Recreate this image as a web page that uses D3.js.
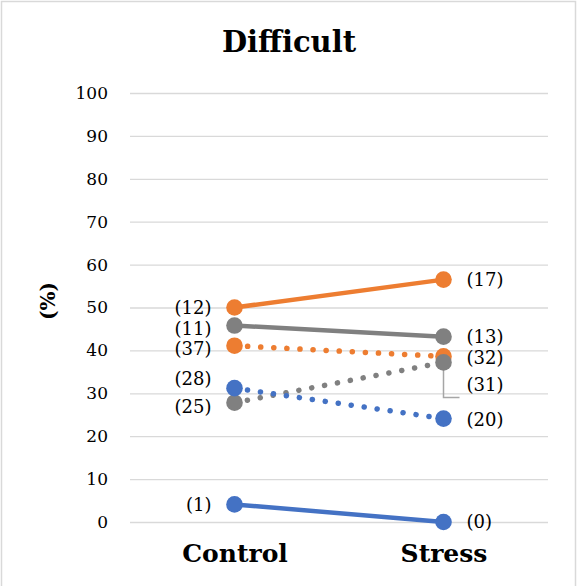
<!DOCTYPE html>
<html>
<head>
<meta charset="utf-8">
<script src="https://cdn.jsdelivr.net/npm/d3@7"></script>
<style>
  body { margin: 0; background: #fff; }
  svg text { font-family: Georgia, "DejaVu Serif", "Liberation Serif", serif; fill: #000; }
</style>
</head>
<body>
<svg width="577" height="586"></svg>
<script>
var categories = ['Control', 'Stress'];
var yTicks = [0, 10, 20, 30, 40, 50, 60, 70, 80, 90, 100];

var orangeSolid = [50, 56.5];
var graySolid = [45.8, 43.2];
var orangeDotted = [41.1, 38.6];
var grayDotted = [27.8, 37.2];
var blueDotted = [31.2, 24.1];
var blueSolid = [4.1, 0];

var orangeSolidLabels = ['(12)', '(17)'];
var graySolidLabels = ['(11)', '(13)'];
var orangeDottedLabels = ['(37)', '(32)'];
var grayDottedLabels = ['(25)', '(31)'];
var blueDottedLabels = ['(28)', '(20)'];
var blueSolidLabels = ['(1)', '(0)'];

var series = [
    {values: orangeDotted, labels: orangeDottedLabels, color: '#ED7D31', dotted: true},
    {values: grayDotted, labels: grayDottedLabels, color: '#808080', dotted: true},
    {values: blueDotted, labels: blueDottedLabels, color: '#4472C4', dotted: true},
    {values: orangeSolid, labels: orangeSolidLabels, color: '#ED7D31', dotted: false},
    {values: graySolid, labels: graySolidLabels, color: '#808080', dotted: false},
    {values: blueSolid, labels: blueSolidLabels, color: '#4472C4', dotted: false}
];

var svg = d3.select('svg');

// chart frame (bottom edge runs off the picture)
svg.append('rect')
    .attr('x', 1.5).attr('y', 1.5).attr('width', 574).attr('height', 600)
    .attr('fill', '#fff').attr('stroke', '#d9d9d9').attr('stroke-width', 1.5);

var margin = {top: 93, left: 130, right: 29, bottom: 64};
var width = 577 - margin.left - margin.right;
var height = 586 - margin.top - margin.bottom;

var g = svg.append('g').attr('transform', 'translate(' + margin.left + ',' + margin.top + ')');

var x = d3.scalePoint().domain(categories).range([0, width]).padding(0.5);
var y = d3.scaleLinear().domain([0, 100]).range([height, 0]);

// grid
g.append('g')
    .call(d3.axisLeft(y).tickValues(yTicks).tickSize(-width).tickFormat(''))
    .call(function(a) {
        a.select('.domain').remove();
        a.selectAll('line').attr('stroke', '#d9d9d9').attr('stroke-width', 1.3);
    });

// y tick labels
g.append('g')
    .call(d3.axisLeft(y).tickValues(yTicks).tickSize(0).tickPadding(22))
    .call(function(a) {
        a.select('.domain').remove();
        a.selectAll('text').style('font-size', '17px').attr('fill', '#000');
    });

// x labels
g.append('g')
    .attr('transform', 'translate(0,' + height + ')')
    .call(d3.axisBottom(x).tickSize(0).tickPadding(22))
    .call(function(a) {
        a.select('.domain').remove();
        a.selectAll('text').style('font-size', '25px').style('font-weight', 'bold').attr('fill', '#000');
    });

// title
svg.append('text')
    .attr('x', 289).attr('y', 52)
    .attr('text-anchor', 'middle')
    .style('font-size', '29px').style('font-weight', 'bold')
    .text('Difficult');

// y axis title
svg.append('text')
    .attr('transform', 'translate(55,301) rotate(-90)')
    .attr('text-anchor', 'middle')
    .style('font-size', '20px').style('font-weight', 'bold')
    .text('(%)');

var line = d3.line()
    .x(function(d, i) { return x(categories[i]); })
    .y(function(d) { return y(d); });

series.forEach(function(s) {
    g.append('path')
        .datum(s.values)
        .attr('d', line)
        .attr('fill', 'none')
        .attr('stroke', s.color)
        .attr('stroke-width', s.dotted ? 5.5 : 4.5)
        .attr('stroke-linecap', 'round')
        .attr('stroke-dasharray', s.dotted ? '0.1 13' : null);
});

// leader line for (31)
g.append('path')
    .attr('d', 'M' + x('Stress') + ',' + y(grayDotted[1]) + 'V' + (y(grayDotted[1]) + 35) + 'H' + (x('Stress') + 16))
    .attr('fill', 'none').attr('stroke', '#a6a6a6').attr('stroke-width', 1.5);

series.forEach(function(s) {
    g.selectAll(null)
        .data(s.values)
        .enter().append('circle')
        .attr('cx', function(d, i) { return x(categories[i]); })
        .attr('cy', function(d) { return y(d); })
        .attr('r', 8.3)
        .attr('fill', s.color);
});

// data labels
var leftShift = {'(12)': 0, '(11)': 3, '(37)': 3, '(28)': -9, '(25)': 4, '(1)': 0};
var rightShift = {'(17)': 0, '(13)': 0, '(32)': 1, '(31)': 22, '(20)': 1, '(0)': 0};

series.forEach(function(s) {
    g.append('text')
        .attr('x', x('Control') - 23)
        .attr('y', y(s.values[0]) + leftShift[s.labels[0]])
        .attr('dy', '0.35em')
        .attr('text-anchor', 'end')
        .style('font-size', '18px')
        .text(s.labels[0]);
    g.append('text')
        .attr('x', x('Stress') + 23)
        .attr('y', y(s.values[1]) + rightShift[s.labels[1]])
        .attr('dy', '0.35em')
        .style('font-size', '18px')
        .text(s.labels[1]);
});
</script>
</body>
</html>
